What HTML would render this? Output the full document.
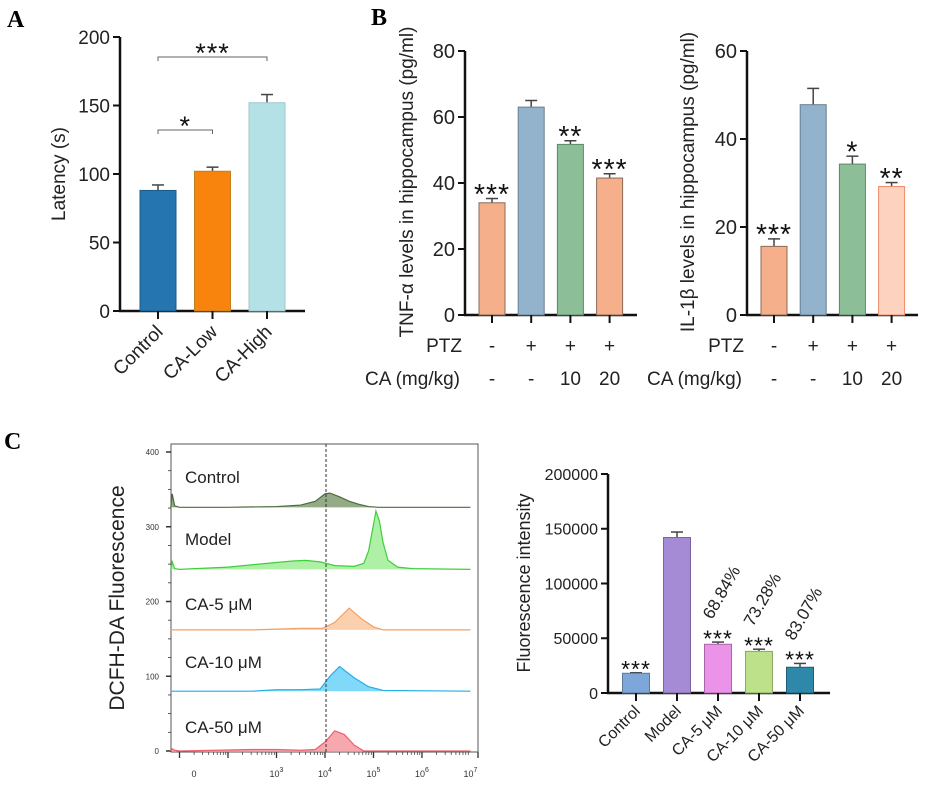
<!DOCTYPE html>
<html><head><meta charset="utf-8"><style>
html,body{margin:0;padding:0;background:#fff;width:941px;height:785px;overflow:hidden}
svg{display:block;font-family:"Liberation Sans",Arial,sans-serif}
.pl{font-family:"Liberation Serif",serif;font-weight:bold;font-size:24px}
</style></head><body>
<svg id="fig" width="941" height="785" viewBox="0 0 941 785" xmlns="http://www.w3.org/2000/svg">
<text class="pl" x="7" y="27">A</text>
<text class="pl" x="371" y="25">B</text>
<text class="pl" x="4" y="449">C</text>
<g id="gA"></g>
<g id="gB1"></g>
<g id="gB2"></g>
<g id="gC1"></g>
<g id="gC2"></g>
</svg>
<script>
// Panel A
const aCats = ["Control","CA-Low","CA-High"];
const aVals = [88,102,152];
const aErr = [92,105,158];
const aTicks = [0,50,100,150,200];
// Panel B
const bCats = ["1","2","3","4"];
const bPTZ = ["-","+","+","+"];
const bCA = ["-","-","10","20"];
const tnfVals = [34,63,51.7,41.5];
const tnfErr = [35.3,65,52.8,42.8];
const tnfStars = ["***","","**","***"];
const tnfTicks = [0,20,40,60,80];
const ilVals = [15.6,47.8,34.3,29.2];
const ilErr = [17.3,51.5,36.1,30.1];
const ilStars = ["***","","*","**"];
const ilTicks = [0,20,40,60];
// Panel C histogram
const flowNames = ["Control","Model","CA-5 μM","CA-10 μM","CA-50 μM"];
const flowOffsets = [326,243,162,80,0];
const flowLogX = [
 [0.82,0.85,0.9,1.0,2.0,3.0,3.5,3.8,4.0,4.1,4.3,4.5,4.7,4.9,5.1,7.0],
 [0.82,0.85,0.9,1.0,2.0,2.8,3.3,3.6,3.9,4.2,4.6,4.8,4.9,5.0,5.05,5.12,5.2,5.3,5.5,5.8,7.0],
 [0.82,2.5,3.0,3.5,3.95,4.2,4.5,4.75,5.0,5.2,7.0],
 [0.82,2.5,3.0,3.5,3.9,4.1,4.3,4.6,4.9,5.2,7.0],
 [0.82,0.85,0.9,1.0,2.5,3.0,3.5,3.8,4.0,4.2,4.4,4.6,4.8,7.0]
];
const flowCounts = [
 [0,18,2,0,0,1,3,8,18,19,14,8,4,1,0,0],
 [0,10,1,0,3,8,11,12,10,5,4,8,25,60,78,65,35,12,3,1,0],
 [0,0,1,2,2,10,29,15,4,0,0],
 [0,0,2,2,3,20,33,18,6,1,0],
 [0,3,1,0,2,2,1,2,12,27,22,8,0,0]
];
const flowYTicks = [0,100,200,300,400];
const flowXTicks = [1.3,3,4,5,6,7];
const flowXLabels = ["0","3","4","5","6","7"];
// Panel C bars
const cCats = ["Control","Model","CA-5 μM","CA-10 μM","CA-50 μM"];
const cVals = [18000,142000,44500,38000,23500];
const cErr = [18500,147000,46500,40000,27000];
const cStars = ["***","","***","***","***"];
const cPct = ["","","68.84%","73.28%","83.07%"];
const cTicks = [0,50000,100000,150000,200000];

const NS="http://www.w3.org/2000/svg";
function mk(p,tag,at,txt){const e=document.createElementNS(NS,tag);for(const k in at)e.setAttribute(k,at[k]);if(txt!==undefined)e.textContent=txt;p.appendChild(e);return e;}

function barChart(g,o){
  const y=v=>o.y0-(v-o.min)/(o.max-o.min)*(o.y0-o.y1);
  const x=i=>o.xs+i*o.step;
  let ax=mk(g,'line',{x1:o.ax,y1:o.y1,x2:o.ax,y2:o.y0+1,stroke:'#111','stroke-width':2.5});
  
  let bx=mk(g,'line',{x1:o.ax-1,y1:o.y0,x2:o.axEnd,y2:o.y0,stroke:'#111','stroke-width':2.5});
  
  o.ticks.forEach(t=>{
    mk(g,'line',{x1:o.ax-7,y1:y(t),x2:o.ax,y2:y(t),stroke:'#111','stroke-width':2});
    const tl=mk(g,'text',{x:o.ax-10,y:y(t)+o.fs*0.36,'text-anchor':'end','font-size':o.fs,fill:'#222'},t);
    
  });
  o.vals.forEach((v,i)=>{
    const cx=x(i);
    mk(g,'line',{x1:cx,y1:y(v),x2:cx,y2:y(o.err[i]),stroke:o.ec||'#444','stroke-width':1.5});
    mk(g,'line',{x1:cx-6,y1:y(o.err[i]),x2:cx+6,y2:y(o.err[i]),stroke:o.ec||'#444','stroke-width':1.5});
    const r=mk(g,'rect',{x:cx-o.bw/2,y:y(v),width:o.bw,height:o.y0-y(v),fill:o.colors[i],stroke:o.strokes?o.strokes[i]:'#777','stroke-width':1});
    
    mk(g,'line',{x1:cx,y1:o.y0,x2:cx,y2:o.y0+8,stroke:'#111','stroke-width':2});
    if(o.stars&&o.stars[i]){const s=mk(g,'text',{x:cx,y:y(o.err[i])+o.sfs*0.25,'text-anchor':'middle','font-size':o.sfs*1.35,'letter-spacing':'1',fill:'#111'},o.stars[i]);
      }
  });
  return {x,y};
}

// Panel A
(function(){
 const g=document.getElementById('gA');
 const s=barChart(g,{min:0,max:200,y0:311,y1:37,ax:120,axEnd:305,xs:158,step:54.5,bw:36,vals:aVals,err:aErr,ticks:aTicks,fs:19,
   colors:['#2475b0','#f8840e','#b4e1e5'],strokes:['#1a5b8a','#c08020','#a0c8cc']});
 aCats.forEach((c,i)=>{const t=mk(g,'text',{'text-anchor':'end','font-size':19,fill:'#222',transform:`translate(${s.x(i)+6},${333}) rotate(-45)`},c);
  });
 const yt=mk(g,'text',{'text-anchor':'middle','font-size':19,fill:'#222',transform:'translate(65,174) rotate(-90)'},'Latency (s)');
 
 [[0,2,57,'***'],[0,1,130,'*']].forEach(b=>{
   const x1=s.x(b[0]),x2=s.x(b[1]);
   mk(g,'path',{d:`M${x1},${b[2]+4}V${b[2]}H${x2}V${b[2]+4}`,fill:'none',stroke:'#666','stroke-width':1});
   const t=mk(g,'text',{x:(x1+x2)/2,y:b[2]+5,'text-anchor':'middle','font-size':27,'letter-spacing':'1',fill:'#111'},b[3]);
   
 });
})();

function bPanel(id,vals,err,stars,ticks,max,ax,axEnd,xs,colors,strokes,title,tx){
 const g=document.getElementById(id);
 const s=barChart(g,{min:0,max:max,y0:315,y1:51,ax:ax,axEnd:axEnd,xs:xs,step:39.2,bw:26,vals:vals,err:err,ticks:ticks,fs:20,stars:stars,sfs:21,colors:colors,strokes:strokes});
 const p=mk(g,'text',{x:ax-3,y:352,'text-anchor':'end','font-size':19,fill:'#222'},'PTZ');
 const c=mk(g,'text',{x:ax-5,y:385,'text-anchor':'end','font-size':19,fill:'#222'},'CA (mg/kg)');
 bPTZ.forEach((v,i)=>{const t=mk(g,'text',{x:s.x(i),y:352,'text-anchor':'middle','font-size':19,fill:'#222'},v);});
 bCA.forEach((v,i)=>{const t=mk(g,'text',{x:s.x(i),y:385,'text-anchor':'middle','font-size':19,fill:'#222'},v);});
 const yt=mk(g,'text',{'text-anchor':'middle','font-size':19,fill:'#222',transform:`translate(${tx},182) rotate(-90)`},title);
 
}
bPanel('gB1',tnfVals,tnfErr,tnfStars,tnfTicks,80,465,637,492,['#f5b08b','#93b2cb','#8cbf98','#f5b08b'],['#8a6a55','#6a7f90','#5a8a66','#8a6a55'],'TNF-α levels in hippocampus (pg/ml)',413);
bPanel('gB2',ilVals,ilErr,ilStars,ilTicks,60,747,918,774,['#f5b08b','#93b2cb','#8cbf98','#fdd3bf'],['#8a6a55','#6a7f90','#5a8a66','#f08a6a'],'IL-1β levels in hippocampus (pg/ml)',694);

// Panel C histogram
(function(){
 const g=document.getElementById('gC1');
 const L=171,T=444,R=478,B=752;
 const x=d=>325+(d-4)*48.5;
 const y=v=>751-v*0.7475;
 const box=mk(g,'rect',{x:L,y:T,width:R-L,height:B-T,fill:'none',stroke:'#555','stroke-width':1});
 
 for(let v=0;v<=400;v+=25){mk(g,'line',{x1:L-(v%100?3:5),y1:y(v),x2:L,y2:y(v),stroke:'#333','stroke-width':v%100?0.8:1.5});}
 flowYTicks.forEach(v=>{const t=mk(g,'text',{x:L-12,y:y(v)+3,'text-anchor':'end','font-size':8,fill:'#333'},v);});
 for(let d=1;d<7;d++){for(let k=1;k<10;k++){const xx=x(d+Math.log10(k));if(xx<L||xx>R)continue;mk(g,'line',{x1:xx,y1:B,x2:xx,y2:B+(k==1?6:3),stroke:'#333','stroke-width':k==1?1.3:0.7});}}
 mk(g,'line',{x1:R,y1:B,x2:R,y2:B+6,stroke:'#333','stroke-width':1.3});
 flowXTicks.forEach((d,i)=>{
   const t=mk(g,'text',{x:x(d),y:777,'text-anchor':'middle','font-size':9,fill:'#333'},i===0?'0':'10');
   
   if(i>0){mk(t,'tspan',{dy:-5,'font-size':7},flowXLabels[i]);}
 });
 const cols=[['#4d6b3d','#93ab86'],['#3fcf3a','#aef0a6'],['#f0a068','#fcd0ad'],['#22aee6','#82d8f8'],['#ee6072','#f7a7ae']];
 const labY=[483,545,610,668,733];
 flowNames.forEach((n,k)=>{
   const xs=flowLogX[k],cs=flowCounts[k],off=flowOffsets[k];
   let d=`M${x(xs[0])},${y(off)}`;
   xs.forEach((lx,i)=>{d+=`L${Math.min(x(lx),R)},${y(off+cs[i])}`;});
   const a=mk(g,'path',{d:d+`L${R},${y(off)}Z`,fill:cols[k][1],stroke:'none'});
   
   const l=mk(g,'path',{d:d,fill:'none',stroke:cols[k][0],'stroke-width':1.2});
   
   const t=mk(g,'text',{x:185,y:labY[k],'font-size':17,fill:'#222'},n);
   
 });
 const dl=mk(g,'line',{x1:326,y1:T,x2:326,y2:B,stroke:'#333','stroke-width':1,'stroke-dasharray':'3,2'});
 
 const yt=mk(g,'text',{'text-anchor':'middle','font-size':21,fill:'#222',transform:'translate(124,598) rotate(-90)'},'DCFH-DA Fluorescence');
 
})();

// Panel C bars
(function(){
 const g=document.getElementById('gC2');
 const s=barChart(g,{min:0,max:200000,y0:693,y1:474,ax:608,axEnd:830,xs:636,step:41,bw:27,vals:cVals,err:cErr,ticks:cTicks,fs:16,stars:cStars,sfs:17,
   colors:['#7ea7d9','#a58bd5','#eb93e9','#bde18b','#2e88aa'],strokes:['#5a7aa0','#7a64a0','#a868a8','#8aa860','#1d5f78']});
 cCats.forEach((c,i)=>{const t=mk(g,'text',{'text-anchor':'end','font-size':16,fill:'#222',transform:`translate(${s.x(i)+5},${712}) rotate(-45)`},c);
  });
 cPct.forEach((p,i)=>{if(!p)return;const t=mk(g,'text',{'font-size':17,fill:'#222',transform:`translate(${s.x(i)-6},${s.y(cErr[i])-22}) rotate(-60)`},p);
  });
 const yt=mk(g,'text',{'text-anchor':'middle','font-size':18,fill:'#222',transform:'translate(530,583) rotate(-90)'},'Fluorescence intensity');
 
})();
</script>
</body></html>
